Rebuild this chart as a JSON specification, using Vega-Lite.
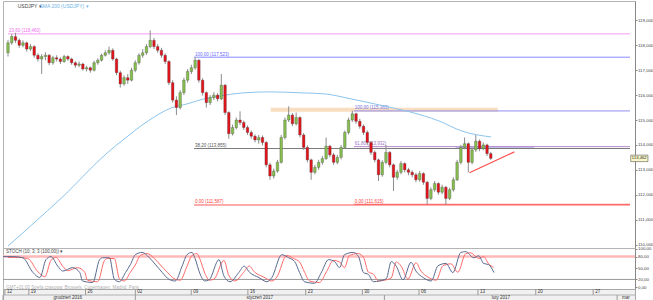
{
"$schema": "https://vega.github.io/schema/vega-lite/v6.json",
"padding": 0,
"autosize": {"type": "pad"},
"background": "#ffffff",
"bounds": "flush",
"spacing": 0,
"config": {"view": {"stroke": "#b4b4b4", "strokeWidth": 1}, "font": "Liberation Sans"},
"datasets": {
"candles": [
{"i":0,"o":117.70,"h":118.22,"l":117.55,"c":118.10},{"i":1,"o":118.10,"h":118.45,"l":118.02,"c":118.35},{"i":2,"o":118.35,"h":118.50,"l":118.10,"c":118.20},{"i":3,"o":118.20,"h":118.28,"l":117.90,"c":118.00},{"i":4,"o":118.00,"h":118.20,"l":117.92,"c":118.10},{"i":5,"o":118.10,"h":118.15,"l":117.75,"c":117.85},{"i":6,"o":117.85,"h":118.05,"l":117.78,"c":117.95},{"i":7,"o":117.95,"h":118.00,"l":117.50,"c":117.60},{"i":8,"o":117.60,"h":117.68,"l":117.35,"c":117.45},{"i":9,"o":117.45,"h":117.65,"l":116.85,"c":117.55},
{"i":10,"o":117.55,"h":117.72,"l":117.40,"c":117.60},{"i":11,"o":117.60,"h":117.65,"l":117.20,"c":117.30},{"i":12,"o":117.30,"h":117.58,"l":117.22,"c":117.50},{"i":13,"o":117.50,"h":117.60,"l":117.35,"c":117.45},{"i":14,"o":117.45,"h":117.52,"l":117.25,"c":117.35},{"i":15,"o":117.35,"h":117.62,"l":117.30,"c":117.55},{"i":16,"o":117.55,"h":117.60,"l":117.38,"c":117.45},{"i":17,"o":117.45,"h":117.50,"l":117.22,"c":117.30},{"i":18,"o":117.30,"h":117.36,"l":117.10,"c":117.20},{"i":19,"o":117.20,"h":117.35,"l":117.12,"c":117.25},
{"i":20,"o":117.25,"h":117.30,"l":116.98,"c":117.05},{"i":21,"o":117.05,"h":117.18,"l":116.95,"c":117.10},{"i":22,"o":117.10,"h":117.15,"l":116.90,"c":117.00},{"i":23,"o":117.00,"h":117.38,"l":116.95,"c":117.30},{"i":24,"o":117.30,"h":117.48,"l":117.22,"c":117.40},{"i":25,"o":117.40,"h":117.66,"l":117.35,"c":117.60},{"i":26,"o":117.60,"h":117.80,"l":117.55,"c":117.70},{"i":27,"o":117.70,"h":117.95,"l":117.62,"c":117.80},{"i":28,"o":117.80,"h":117.88,"l":117.38,"c":117.45},{"i":29,"o":117.45,"h":117.50,"l":116.80,"c":116.90},
{"i":30,"o":116.90,"h":116.98,"l":116.30,"c":116.45},{"i":31,"o":116.45,"h":116.80,"l":116.38,"c":116.70},{"i":32,"o":116.70,"h":116.85,"l":116.45,"c":116.60},{"i":33,"o":116.60,"h":117.10,"l":116.55,"c":117.00},{"i":34,"o":117.00,"h":117.40,"l":116.92,"c":117.30},{"i":35,"o":117.30,"h":117.68,"l":117.22,"c":117.60},{"i":36,"o":117.60,"h":117.85,"l":117.50,"c":117.70},{"i":37,"o":117.70,"h":118.05,"l":117.62,"c":117.95},{"i":38,"o":117.95,"h":118.60,"l":117.88,"c":118.20},{"i":39,"o":118.20,"h":118.30,"l":117.85,"c":117.95},
{"i":40,"o":117.95,"h":118.05,"l":117.70,"c":117.80},{"i":41,"o":117.80,"h":117.90,"l":117.50,"c":117.60},{"i":42,"o":117.60,"h":117.68,"l":117.25,"c":117.35},{"i":43,"o":117.35,"h":117.40,"l":116.40,"c":116.50},{"i":44,"o":116.50,"h":116.60,"l":115.70,"c":115.80},{"i":45,"o":115.80,"h":115.95,"l":115.20,"c":115.50},{"i":46,"o":115.50,"h":116.20,"l":115.42,"c":116.10},{"i":47,"o":116.10,"h":116.70,"l":116.00,"c":116.60},{"i":48,"o":116.60,"h":117.05,"l":116.50,"c":116.95},{"i":49,"o":116.95,"h":117.22,"l":116.85,"c":117.10},
{"i":50,"o":117.10,"h":117.52,"l":117.02,"c":117.40},{"i":51,"o":117.40,"h":117.45,"l":116.50,"c":116.60},{"i":52,"o":116.60,"h":116.68,"l":115.98,"c":116.10},{"i":53,"o":116.10,"h":116.15,"l":115.50,"c":115.70},{"i":54,"o":115.70,"h":116.00,"l":115.60,"c":115.90},{"i":55,"o":115.90,"h":116.12,"l":115.80,"c":116.00},{"i":56,"o":116.00,"h":116.08,"l":115.75,"c":115.85},{"i":57,"o":115.85,"h":116.85,"l":115.80,"c":116.40},{"i":58,"o":116.40,"h":116.45,"l":115.20,"c":115.30},{"i":59,"o":115.30,"h":115.35,"l":114.25,"c":114.45},
{"i":60,"o":114.45,"h":114.82,"l":114.38,"c":114.70},{"i":61,"o":114.70,"h":115.10,"l":114.62,"c":115.00},{"i":62,"o":115.00,"h":115.35,"l":114.80,"c":114.90},{"i":63,"o":114.90,"h":114.98,"l":114.60,"c":114.70},{"i":64,"o":114.70,"h":114.78,"l":114.40,"c":114.50},{"i":65,"o":114.50,"h":114.58,"l":114.25,"c":114.35},{"i":66,"o":114.35,"h":114.42,"l":114.10,"c":114.20},{"i":67,"o":114.20,"h":114.40,"l":114.05,"c":114.30},{"i":68,"o":114.30,"h":114.38,"l":113.98,"c":114.10},{"i":69,"o":114.10,"h":114.15,"l":113.10,"c":113.20},
{"i":70,"o":113.20,"h":113.28,"l":112.60,"c":112.75},{"i":71,"o":112.75,"h":113.05,"l":112.65,"c":112.95},{"i":72,"o":112.95,"h":113.40,"l":112.88,"c":113.30},{"i":73,"o":113.30,"h":114.40,"l":113.25,"c":114.30},{"i":74,"o":114.30,"h":115.10,"l":114.22,"c":115.00},{"i":75,"o":115.00,"h":115.55,"l":114.92,"c":115.20},{"i":76,"o":115.20,"h":115.28,"l":114.75,"c":114.85},{"i":77,"o":114.85,"h":115.30,"l":114.78,"c":115.10},{"i":78,"o":115.10,"h":115.15,"l":114.30,"c":114.40},{"i":79,"o":114.40,"h":114.48,"l":113.80,"c":113.90},
{"i":80,"o":113.90,"h":113.98,"l":113.30,"c":113.40},{"i":81,"o":113.40,"h":113.45,"l":112.60,"c":112.90},{"i":82,"o":112.90,"h":113.20,"l":112.82,"c":113.10},{"i":83,"o":113.10,"h":113.40,"l":113.00,"c":113.30},{"i":84,"o":113.30,"h":113.55,"l":113.20,"c":113.45},{"i":85,"o":113.45,"h":114.30,"l":113.40,"c":113.95},{"i":86,"o":113.95,"h":114.00,"l":113.50,"c":113.60},{"i":87,"o":113.60,"h":113.68,"l":113.20,"c":113.30},{"i":88,"o":113.30,"h":113.60,"l":113.22,"c":113.50},{"i":89,"o":113.50,"h":114.00,"l":113.42,"c":113.90},
{"i":90,"o":113.90,"h":114.58,"l":113.85,"c":114.50},{"i":91,"o":114.50,"h":115.10,"l":114.42,"c":115.00},{"i":92,"o":115.00,"h":115.37,"l":114.92,"c":115.25},{"i":93,"o":115.25,"h":115.30,"l":114.85,"c":114.95},{"i":94,"o":114.95,"h":115.05,"l":114.65,"c":114.75},{"i":95,"o":114.75,"h":114.82,"l":114.40,"c":114.50},{"i":96,"o":114.50,"h":114.58,"l":114.00,"c":114.10},{"i":97,"o":114.10,"h":114.15,"l":113.60,"c":113.70},{"i":98,"o":113.70,"h":113.78,"l":113.30,"c":113.40},{"i":99,"o":113.40,"h":113.45,"l":112.55,"c":112.80},
{"i":100,"o":112.80,"h":113.38,"l":112.72,"c":113.30},{"i":101,"o":113.30,"h":114.00,"l":113.22,"c":113.70},{"i":102,"o":113.70,"h":113.75,"l":113.10,"c":113.20},{"i":103,"o":113.20,"h":113.25,"l":112.15,"c":112.70},{"i":104,"o":112.70,"h":113.00,"l":112.60,"c":112.90},{"i":105,"o":112.90,"h":113.35,"l":112.82,"c":113.25},{"i":106,"o":113.25,"h":113.30,"l":112.90,"c":113.00},{"i":107,"o":113.00,"h":113.08,"l":112.78,"c":112.90},{"i":108,"o":112.90,"h":112.98,"l":112.70,"c":112.80},{"i":109,"o":112.80,"h":112.88,"l":112.50,"c":112.60},
{"i":110,"o":112.60,"h":112.95,"l":112.52,"c":112.85},{"i":111,"o":112.85,"h":112.90,"l":112.40,"c":112.50},{"i":112,"o":112.50,"h":112.55,"l":111.62,"c":111.85},{"i":113,"o":111.85,"h":112.30,"l":111.78,"c":112.20},{"i":114,"o":112.20,"h":112.55,"l":112.12,"c":112.45},{"i":115,"o":112.45,"h":112.50,"l":112.00,"c":112.10},{"i":116,"o":112.10,"h":112.40,"l":112.02,"c":112.30},{"i":117,"o":112.30,"h":112.35,"l":111.60,"c":111.85},{"i":118,"o":111.85,"h":112.28,"l":111.78,"c":112.20},{"i":119,"o":112.20,"h":112.70,"l":112.12,"c":112.60},
{"i":120,"o":112.60,"h":113.40,"l":112.55,"c":113.30},{"i":121,"o":113.30,"h":114.00,"l":113.22,"c":113.90},{"i":122,"o":113.90,"h":114.30,"l":113.82,"c":114.05},{"i":123,"o":114.05,"h":114.10,"l":112.90,"c":113.30},{"i":124,"o":113.30,"h":113.90,"l":113.22,"c":113.80},{"i":125,"o":113.80,"h":114.40,"l":113.72,"c":114.15},{"i":126,"o":114.15,"h":114.22,"l":113.75,"c":113.85},{"i":127,"o":113.85,"h":114.10,"l":113.78,"c":114.00},{"i":128,"o":114.00,"h":114.05,"l":113.55,"c":113.65},{"i":129,"o":113.65,"h":113.72,"l":113.40,"c":113.46}
],
"sma": [
{"i":0,"p":109.94},{"i":5.2,"p":110.63},{"i":10.5,"p":111.35},{"i":15.7,"p":112.07},{"i":20.9,"p":112.87},{"i":26.2,"p":113.64},{"i":31.4,"p":114.28},{"i":37.4,"p":114.96},{"i":43.7,"p":115.49},{"i":47.9,"p":115.65},{"i":52.4,"p":115.85},{"i":56.8,"p":115.97},{"i":62.8,"p":116.09},{"i":69.9,"p":116.13},{"i":78.5,"p":116.09},{"i":84.6,"p":116.05},{"i":91.6,"p":115.85},{"i":100.3,"p":115.57},{"i":107.3,"p":115.33},{"i":115.2,"p":114.96},{"i":121.2,"p":114.56},{"i":129.1,"p":114.32}
],
"fib": [
{"lvl":"f1_100","p":117.523,"x0":49.7,"x1":166.2,"lab":"100,00 (117,523)"},
{"lvl":"f1_38","p":113.855,"x0":49.7,"x1":166.2,"lab":"38,20 (113,855)"},
{"lvl":"f1_0","p":111.587,"x0":49.7,"x1":166.2,"lab":"0,00 (111,587)"},
{"lvl":"f2_100","p":115.365,"x0":92.4,"x1":166.2,"lab":"100,00 (115,365)"},
{"lvl":"f2_61","p":113.932,"x0":92.4,"x1":166.2,"lab":"61,80 (113,932)"},
{"lvl":"f2_0","p":111.615,"x0":92.4,"x1":166.2,"lab":"0,00 (111,615)"},
{"lvl":"top","p":118.46,"x0":0,"x1":166.2,"lab":"23,60 (118,460)"}
],
"bands": [
{"kind":"orange","x0":70.2,"x1":130.9,"y0":115.33,"y1":115.49},
{"kind":"lav","x0":119.6,"x1":140.6,"y0":113.87,"y1":113.96}
],
"trend": [{"i":123.3,"p":112.88},{"i":135.3,"p":113.72}],
"hdr": [
{"kind":"sym","txt":"USDJPY ▾","i":2.6,"p":119.58},
{"kind":"sma","txt":"SMA 200 (USDJPY) ▾","i":8.4,"p":119.58}
],
"k": [
{"i":0,"v":80},{"i":2.6,"v":80},{"i":5.2,"v":77},{"i":7.9,"v":38},{"i":9.7,"v":25},{"i":11.3,"v":72},{"i":12.6,"v":80},{"i":14.4,"v":55},{"i":15.7,"v":42},{"i":18.3,"v":51},{"i":20.2,"v":38},{"i":20.9,"v":16},{"i":23.6,"v":12},{"i":25.4,"v":72},{"i":26.2,"v":77},{"i":28.0,"v":77},{"i":29.3,"v":20},{"i":30.6,"v":14},{"i":32.2,"v":38},{"i":33.5,"v":59},{"i":34.8,"v":85},{"i":36.6,"v":91},{"i":38.5,"v":77},{"i":40.1,"v":59},{"i":41.9,"v":38},{"i":43.7,"v":20},{"i":45.3,"v":16},{"i":47.1,"v":55},{"i":48.4,"v":85},{"i":49.7,"v":91},{"i":50.5,"v":75},{"i":51.8,"v":35},{"i":53.0,"v":16},{"i":54.2,"v":19},{"i":56.8,"v":72},{"i":58.1,"v":29},{"i":59.7,"v":14},{"i":62.0,"v":38},{"i":63.4,"v":55},{"i":64.9,"v":38},{"i":67.3,"v":25},{"i":69.4,"v":14},{"i":70.7,"v":25},{"i":73.3,"v":85},{"i":75.1,"v":77},{"i":76.7,"v":67},{"i":78.0,"v":38},{"i":79.3,"v":14},{"i":81.9,"v":10},{"i":83.8,"v":40},{"i":85.6,"v":72},{"i":87.2,"v":67},{"i":88.5,"v":51},{"i":89.8,"v":85},{"i":92.1,"v":91},{"i":93.5,"v":80},{"i":94.8,"v":38},{"i":96.1,"v":33},{"i":97.4,"v":14},{"i":99.0,"v":16},{"i":100.8,"v":22},{"i":102.1,"v":67},{"i":103.4,"v":55},{"i":105.2,"v":19},{"i":107.3,"v":65},{"i":108.6,"v":42},{"i":110.5,"v":25},{"i":112.6,"v":16},{"i":114.4,"v":56},{"i":116.5,"v":62},{"i":118.3,"v":38},{"i":120.4,"v":91},{"i":121.7,"v":93},{"i":123.8,"v":77},{"i":125.1,"v":82},{"i":126.4,"v":62},{"i":127.7,"v":59},{"i":129.1,"v":38}
],
"d": [
{"i":1.3,"v":78},{"i":3.9,"v":78},{"i":6.5,"v":75},{"i":9.2,"v":40},{"i":11.0,"v":27},{"i":12.6,"v":70},{"i":13.9,"v":78},{"i":15.7,"v":55},{"i":17.0,"v":43},{"i":19.6,"v":51},{"i":21.5,"v":39},{"i":22.2,"v":18},{"i":24.9,"v":14},{"i":26.7,"v":70},{"i":27.5,"v":75},{"i":29.3,"v":75},{"i":30.6,"v":22},{"i":31.9,"v":16},{"i":33.5,"v":39},{"i":34.8,"v":58},{"i":36.1,"v":83},{"i":37.9,"v":88},{"i":39.8,"v":75},{"i":41.4,"v":58},{"i":43.2,"v":39},{"i":45.0,"v":22},{"i":46.6,"v":18},{"i":48.4,"v":55},{"i":49.7,"v":83},{"i":51.0,"v":88},{"i":51.8,"v":73},{"i":53.1,"v":36},{"i":54.3,"v":18},{"i":55.5,"v":21},{"i":58.1,"v":70},{"i":59.4,"v":30},{"i":61.0,"v":16},{"i":63.3,"v":39},{"i":64.7,"v":55},{"i":66.2,"v":39},{"i":68.6,"v":26},{"i":70.7,"v":16},{"i":72.0,"v":26},{"i":74.6,"v":83},{"i":76.4,"v":75},{"i":78.0,"v":66},{"i":79.3,"v":39},{"i":80.6,"v":16},{"i":83.2,"v":12},{"i":85.1,"v":41},{"i":86.9,"v":70},{"i":88.5,"v":66},{"i":89.8,"v":51},{"i":91.1,"v":83},{"i":93.4,"v":88},{"i":94.8,"v":78},{"i":96.1,"v":39},{"i":97.4,"v":34},{"i":98.7,"v":16},{"i":100.3,"v":18},{"i":102.1,"v":24},{"i":103.4,"v":66},{"i":104.7,"v":55},{"i":106.5,"v":21},{"i":108.6,"v":64},{"i":109.9,"v":42},{"i":111.8,"v":26},{"i":113.9,"v":18},{"i":115.7,"v":56},{"i":117.8,"v":61},{"i":119.6,"v":39},{"i":121.7,"v":88},{"i":123.0,"v":90},{"i":125.1,"v":75},{"i":126.4,"v":80},{"i":127.7,"v":61},{"i":129.0,"v":52}
],
"oscref": [{"lvl":"hi","v":80},{"lvl":"lo","v":20}],
"osctext": [
{"kind":"title","txt":"STOCH (10; 3; 3 (100,00)) ▾","i":0.8,"v":92},
{"kind":"foot","txt":"GMT+01:00  Strefa czasowa: Brussels, Copenhagen, Madrid, Paris","i":0.8,"v":-3}
],
"ticks": [
{"i":0.5,"lab":"12"},{"i":6.8,"lab":"19"},{"i":21.7,"lab":"26"},{"i":34.8,"lab":"02"},{"i":49.5,"lab":"09"},{"i":64.4,"lab":"16"},{"i":79.6,"lab":"23"},{"i":94.5,"lab":"30"},{"i":109.4,"lab":"06"},{"i":124.9,"lab":"13"},{"i":140.1,"lab":"20"},{"i":155.2,"lab":"27"}
],
"months": [
{"i":17,"b":0,"lab":"grudzień 2016"},{"i":67.5,"b":34.8,"lab":"styczeń 2017"},{"i":130.9,"b":100.3,"lab":"luty 2017"},{"i":163.8,"b":161.5,"lab":"mar"}
]
},
"vconcat": [
{
"width": 632,
"height": 247,
"resolve": {"scale": {"color": "independent"}},
"layer": [
{
"data": {"name": "bands"},
"mark": {"type": "rect", "opacity": 0.7},
"encoding": {
"x": {"field": "x0", "type": "quantitative", "scale": {"domain": [0, 166.2], "nice": false, "zero": false}, "axis": null},
"x2": {"field": "x1"},
"y": {"field": "y0", "type": "quantitative", "scale": {"domain": [109.86, 119.78], "nice": false, "zero": false},
"axis": {"orient": "right", "values": [110, 111, 112, 113, 114, 115, 116, 117, 118, 119], "labelExpr": "replace(format(datum.value, '.3f'), '.', ',')", "labelFontSize": 4.4, "labelColor": "#444444", "tickSize": 2, "tickColor": "#888888", "domainColor": "#888888", "labelPadding": 0.5, "grid": false, "title": null}},
"y2": {"field": "y1"},
"color": {"field": "kind", "type": "nominal", "scale": {"domain": ["orange", "lav"], "range": ["#f6cfa6", "#a9aee6"]}, "legend": null}
}
},
{
"data": {"name": "fib"},
"mark": {"type": "rule", "strokeWidth": 1},
"encoding": {
"x": {"field": "x0", "type": "quantitative", "scale": {"domain": [0, 166.2], "nice": false, "zero": false}, "axis": null},
"x2": {"field": "x1"},
"y": {"field": "p", "type": "quantitative", "scale": {"domain": [109.86, 119.78], "nice": false, "zero": false},
"axis": {"orient": "right", "values": [110, 111, 112, 113, 114, 115, 116, 117, 118, 119], "labelExpr": "replace(format(datum.value, '.3f'), '.', ',')", "labelFontSize": 4.4, "labelColor": "#444444", "tickSize": 2, "tickColor": "#888888", "domainColor": "#888888", "labelPadding": 0.5, "grid": false, "title": null}},
"color": {"field": "lvl", "type": "nominal", "scale": {"domain": ["f1_100", "f1_38", "f1_0", "f2_100", "f2_61", "f2_0", "top"], "range": ["#8a8aff", "#7a7a7a", "#ff5a5a", "#8f8ff0", "#b98ccc", "#ff5a5a", "#f59af5"]}, "legend": null}
}
},
{
"data": {"name": "fib"},
"mark": {"type": "text", "align": "left", "baseline": "bottom", "dx": 1, "dy": -0.5, "fontSize": 4.5},
"encoding": {
"x": {"field": "x0", "type": "quantitative", "scale": {"domain": [0, 166.2], "nice": false, "zero": false}, "axis": null},
"y": {"field": "p", "type": "quantitative", "scale": {"domain": [109.86, 119.78], "nice": false, "zero": false},
"axis": {"orient": "right", "values": [110, 111, 112, 113, 114, 115, 116, 117, 118, 119], "labelExpr": "replace(format(datum.value, '.3f'), '.', ',')", "labelFontSize": 4.4, "labelColor": "#444444", "tickSize": 2, "tickColor": "#888888", "domainColor": "#888888", "labelPadding": 0.5, "grid": false, "title": null}},
"text": {"field": "lab"},
"color": {"field": "lvl", "type": "nominal", "scale": {"domain": ["f1_100", "f1_38", "f1_0", "f2_100", "f2_61", "f2_0", "top"], "range": ["#6a6aff", "#555555", "#ff4040", "#7070e0", "#a070c0", "#ff4040", "#ee70ee"]}, "legend": null}
}
},
{
"data": {"name": "sma"},
"mark": {"type": "line", "color": "#8cc4ec", "strokeWidth": 1, "interpolate": "monotone", "clip": true},
"encoding": {
"x": {"field": "i", "type": "quantitative", "scale": {"domain": [0, 166.2], "nice": false, "zero": false}, "axis": null},
"y": {"field": "p", "type": "quantitative", "scale": {"domain": [109.86, 119.78], "nice": false, "zero": false},
"axis": {"orient": "right", "values": [110, 111, 112, 113, 114, 115, 116, 117, 118, 119], "labelExpr": "replace(format(datum.value, '.3f'), '.', ',')", "labelFontSize": 4.4, "labelColor": "#444444", "tickSize": 2, "tickColor": "#888888", "domainColor": "#888888", "labelPadding": 0.5, "grid": false, "title": null}}
}
},
{
"data": {"name": "candles"},
"mark": {"type": "rule", "color": "#8c8c8c", "strokeWidth": 1},
"encoding": {
"x": {"field": "i", "type": "quantitative", "scale": {"domain": [0, 166.2], "nice": false, "zero": false}, "axis": null},
"y": {"field": "l", "type": "quantitative", "scale": {"domain": [109.86, 119.78], "nice": false, "zero": false},
"axis": {"orient": "right", "values": [110, 111, 112, 113, 114, 115, 116, 117, 118, 119], "labelExpr": "replace(format(datum.value, '.3f'), '.', ',')", "labelFontSize": 4.4, "labelColor": "#444444", "tickSize": 2, "tickColor": "#888888", "domainColor": "#888888", "labelPadding": 0.5, "grid": false, "title": null}},
"y2": {"field": "h"}
}
},
{
"data": {"name": "candles"},
"mark": {"type": "bar", "width": 2.6, "stroke": "#3a3a3a", "strokeWidth": 0.3},
"encoding": {
"x": {"field": "i", "type": "quantitative", "scale": {"domain": [0, 166.2], "nice": false, "zero": false}, "axis": null},
"y": {"field": "o", "type": "quantitative", "scale": {"domain": [109.86, 119.78], "nice": false, "zero": false},
"axis": {"orient": "right", "values": [110, 111, 112, 113, 114, 115, 116, 117, 118, 119], "labelExpr": "replace(format(datum.value, '.3f'), '.', ',')", "labelFontSize": 4.4, "labelColor": "#444444", "tickSize": 2, "tickColor": "#888888", "domainColor": "#888888", "labelPadding": 0.5, "grid": false, "title": null}},
"y2": {"field": "c"},
"color": {"condition": {"test": "datum.c >= datum.o", "value": "#86bf4e"}, "value": "#e3131b"}
}
},
{
"data": {"name": "trend"},
"mark": {"type": "line", "color": "#ff4d4d", "strokeWidth": 1.2},
"encoding": {
"x": {"field": "i", "type": "quantitative", "scale": {"domain": [0, 166.2], "nice": false, "zero": false}, "axis": null},
"y": {"field": "p", "type": "quantitative", "scale": {"domain": [109.86, 119.78], "nice": false, "zero": false},
"axis": {"orient": "right", "values": [110, 111, 112, 113, 114, 115, 116, 117, 118, 119], "labelExpr": "replace(format(datum.value, '.3f'), '.', ',')", "labelFontSize": 4.4, "labelColor": "#444444", "tickSize": 2, "tickColor": "#888888", "domainColor": "#888888", "labelPadding": 0.5, "grid": false, "title": null}}
}
},
{
"data": {"name": "hdr"},
"mark": {"type": "text", "align": "left", "baseline": "middle", "fontSize": 5},
"encoding": {
"x": {"field": "i", "type": "quantitative", "scale": {"domain": [0, 166.2], "nice": false, "zero": false}, "axis": null},
"y": {"field": "p", "type": "quantitative", "scale": {"domain": [109.86, 119.78], "nice": false, "zero": false},
"axis": {"orient": "right", "values": [110, 111, 112, 113, 114, 115, 116, 117, 118, 119], "labelExpr": "replace(format(datum.value, '.3f'), '.', ',')", "labelFontSize": 4.4, "labelColor": "#444444", "tickSize": 2, "tickColor": "#888888", "domainColor": "#888888", "labelPadding": 0.5, "grid": false, "title": null}},
"text": {"field": "txt"},
"color": {"field": "kind", "type": "nominal", "scale": {"domain": ["sym", "sma"], "range": ["#444444", "#6fb3e6"]}, "legend": null}
}
},
{
"data": {"values": [{"lab": "113,462", "p0": 113.33, "p1": 113.59, "x0": 166.4, "x1": 171.0}]},
"mark": {"type": "rect", "fill": "#fbf6c8", "stroke": "#555555", "strokeWidth": 0.6},
"encoding": {
"x": {"field": "x0", "type": "quantitative", "scale": {"domain": [0, 166.2], "nice": false, "zero": false}, "axis": null},
"x2": {"field": "x1"},
"y": {"field": "p0", "type": "quantitative", "scale": {"domain": [109.86, 119.78], "nice": false, "zero": false},
"axis": {"orient": "right", "values": [110, 111, 112, 113, 114, 115, 116, 117, 118, 119], "labelExpr": "replace(format(datum.value, '.3f'), '.', ',')", "labelFontSize": 4.4, "labelColor": "#444444", "tickSize": 2, "tickColor": "#888888", "domainColor": "#888888", "labelPadding": 0.5, "grid": false, "title": null}},
"y2": {"field": "p1"}
}
},
{
"data": {"values": [{"lab": "113,462", "p": 113.462, "x0": 166.7}]},
"mark": {"type": "text", "align": "left", "baseline": "middle", "fontSize": 4.2, "color": "#222222"},
"encoding": {
"x": {"field": "x0", "type": "quantitative", "scale": {"domain": [0, 166.2], "nice": false, "zero": false}, "axis": null},
"y": {"field": "p", "type": "quantitative", "scale": {"domain": [109.86, 119.78], "nice": false, "zero": false},
"axis": {"orient": "right", "values": [110, 111, 112, 113, 114, 115, 116, 117, 118, 119], "labelExpr": "replace(format(datum.value, '.3f'), '.', ',')", "labelFontSize": 4.4, "labelColor": "#444444", "tickSize": 2, "tickColor": "#888888", "domainColor": "#888888", "labelPadding": 0.5, "grid": false, "title": null}},
"text": {"field": "lab"}
}
}
]
},
{
"width": 632,
"height": 41,
"resolve": {"scale": {"color": "independent", "strokeWidth": "independent"}},
"layer": [
{
"data": {"name": "oscref"},
"mark": {"type": "rule"},
"encoding": {
"y": {"field": "v", "type": "quantitative", "scale": {"domain": [-5.1, 102.6], "nice": false, "zero": false},
"axis": {"orient": "right", "values": [0, 20, 50, 80, 100], "labelExpr": "replace(format(datum.value, '.2f'), '.', ',')", "labelFontSize": 4.4, "labelColor": "#444444", "tickSize": 2, "tickColor": "#888888", "domainColor": "#888888", "labelPadding": 0.5, "grid": false, "title": null}},
"color": {"field": "lvl", "type": "nominal", "scale": {"domain": ["hi", "lo"], "range": ["#ffb8b8", "#9a9a9a"]}, "legend": null},
"strokeWidth": {"field": "lvl", "type": "nominal", "scale": {"domain": ["hi", "lo"], "range": [2.5, 1]}, "legend": null}
}
},
{
"data": {"name": "d"},
"mark": {"type": "line", "color": "#ff6a6a", "strokeWidth": 1, "interpolate": "monotone"},
"encoding": {
"x": {"field": "i", "type": "quantitative", "scale": {"domain": [0, 166.2], "nice": false, "zero": false}, "axis": null},
"y": {"field": "v", "type": "quantitative", "scale": {"domain": [-5.1, 102.6], "nice": false, "zero": false},
"axis": {"orient": "right", "values": [0, 20, 50, 80, 100], "labelExpr": "replace(format(datum.value, '.2f'), '.', ',')", "labelFontSize": 4.4, "labelColor": "#444444", "tickSize": 2, "tickColor": "#888888", "domainColor": "#888888", "labelPadding": 0.5, "grid": false, "title": null}}
}
},
{
"data": {"name": "k"},
"mark": {"type": "line", "color": "#5b6b8f", "strokeWidth": 1, "interpolate": "monotone"},
"encoding": {
"x": {"field": "i", "type": "quantitative", "scale": {"domain": [0, 166.2], "nice": false, "zero": false}, "axis": null},
"y": {"field": "v", "type": "quantitative", "scale": {"domain": [-5.1, 102.6], "nice": false, "zero": false},
"axis": {"orient": "right", "values": [0, 20, 50, 80, 100], "labelExpr": "replace(format(datum.value, '.2f'), '.', ',')", "labelFontSize": 4.4, "labelColor": "#444444", "tickSize": 2, "tickColor": "#888888", "domainColor": "#888888", "labelPadding": 0.5, "grid": false, "title": null}}
}
},
{
"data": {"name": "osctext"},
"mark": {"type": "text", "align": "left", "baseline": "middle", "fontSize": 4.5},
"encoding": {
"x": {"field": "i", "type": "quantitative", "scale": {"domain": [0, 166.2], "nice": false, "zero": false}, "axis": null},
"y": {"field": "v", "type": "quantitative", "scale": {"domain": [-5.1, 102.6], "nice": false, "zero": false},
"axis": {"orient": "right", "values": [0, 20, 50, 80, 100], "labelExpr": "replace(format(datum.value, '.2f'), '.', ',')", "labelFontSize": 4.4, "labelColor": "#444444", "tickSize": 2, "tickColor": "#888888", "domainColor": "#888888", "labelPadding": 0.5, "grid": false, "title": null}},
"text": {"field": "txt"},
"color": {"field": "kind", "type": "nominal", "scale": {"domain": ["title", "foot"], "range": ["#444444", "#b0b0b0"]}, "legend": null}
}
}
]
},
{
"width": 632,
"height": 12,
"view": {"fill": "#f1f1f1", "stroke": "#a8a8a8"},
"layer": [
{
"data": {"values": [{"a": 0, "b": 166.2, "y": 1}]},
"mark": {"type": "rule", "color": "#b0b0b0", "strokeWidth": 1},
"encoding": {
"x": {"field": "a", "type": "quantitative", "scale": {"domain": [0, 166.2], "nice": false, "zero": false}, "axis": null},
"x2": {"field": "b"},
"y": {"field": "y", "type": "quantitative", "scale": {"domain": [0, 2], "nice": false, "zero": false}, "axis": null}
}
},
{
"data": {"name": "ticks"},
"mark": {"type": "rule", "color": "#9a9a9a", "strokeWidth": 1},
"encoding": {
"x": {"field": "i", "type": "quantitative", "scale": {"domain": [0, 166.2], "nice": false, "zero": false}, "axis": null},
"y": {"datum": 2, "type": "quantitative", "scale": {"domain": [0, 2], "nice": false, "zero": false}, "axis": null},
"y2": {"datum": 1}
}
},
{
"data": {"name": "ticks"},
"mark": {"type": "text", "align": "left", "baseline": "middle", "dx": 2, "fontSize": 4.5, "color": "#333333"},
"encoding": {
"x": {"field": "i", "type": "quantitative", "scale": {"domain": [0, 166.2], "nice": false, "zero": false}, "axis": null},
"y": {"datum": 1.5, "type": "quantitative", "scale": {"domain": [0, 2], "nice": false, "zero": false}, "axis": null},
"text": {"field": "lab"}
}
},
{
"data": {"name": "months"},
"mark": {"type": "rule", "color": "#9a9a9a", "strokeWidth": 1},
"encoding": {
"x": {"field": "b", "type": "quantitative", "scale": {"domain": [0, 166.2], "nice": false, "zero": false}, "axis": null},
"y": {"datum": 0, "type": "quantitative", "scale": {"domain": [0, 2], "nice": false, "zero": false}, "axis": null},
"y2": {"datum": 1}
}
},
{
"data": {"name": "months"},
"mark": {"type": "text", "align": "center", "baseline": "middle", "fontSize": 4.5, "color": "#333333"},
"encoding": {
"x": {"field": "i", "type": "quantitative", "scale": {"domain": [0, 166.2], "nice": false, "zero": false}, "axis": null},
"y": {"datum": 0.5, "type": "quantitative", "scale": {"domain": [0, 2], "nice": false, "zero": false}, "axis": null},
"text": {"field": "lab"}
}
}
]
}
]
}
